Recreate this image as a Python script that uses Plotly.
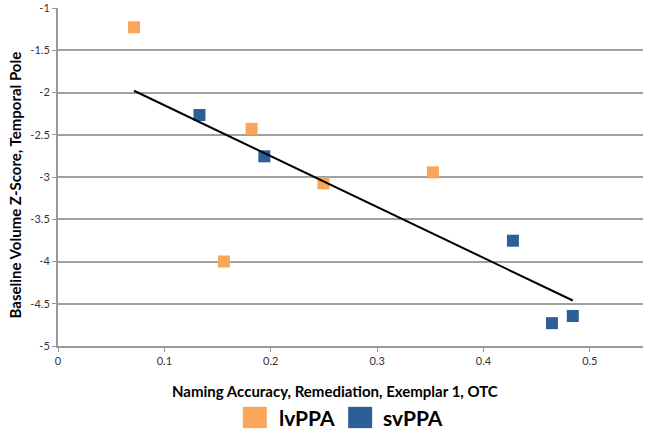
import numpy as np
import plotly.graph_objects as go

lv_x = [0.0715, 0.156, 0.182, 0.2496, 0.3525]
lv_y = [-1.228, -4.0, -2.43, -3.075, -2.945]
sv_x = [0.133, 0.194, 0.4277, 0.4644, 0.484]
sv_y = [-2.266, -2.755, -3.754, -4.73, -4.645]

x_ticks = [0, 0.1, 0.2, 0.3, 0.4, 0.5]
y_ticks = [-1, -1.5, -2, -2.5, -3, -3.5, -4, -4.5, -5]

series_names = ["lvPPA", "svPPA"]

ORANGE = "#F9A65A"
BLUE = "#2C5F98"
FONT = "Lato, Open Sans, sans-serif"

all_x = np.array(lv_x + sv_x)
all_y = np.array(lv_y + sv_y)
slope, intercept = np.polyfit(all_x, all_y, 1)
tx = np.array([all_x.min(), all_x.max()])
ty = slope * tx + intercept

fig = go.Figure()
fig.add_trace(go.Scatter(x=lv_x, y=lv_y, mode="markers", name=series_names[0], showlegend=False,
                         marker=dict(symbol="square", size=12, color=ORANGE)))
fig.add_trace(go.Scatter(x=sv_x, y=sv_y, mode="markers", name=series_names[1], showlegend=False,
                         marker=dict(symbol="square", size=12, color=BLUE)))
fig.add_trace(go.Scatter(x=tx, y=ty, mode="lines", showlegend=False,
                         line=dict(color="black", width=2)))

# custom legend (large swatches)
legend_items = [(series_names[0], ORANGE, 0.316, 0.374), (series_names[1], BLUE, 0.496, 0.552)]
for name, col, sx, tx_ in legend_items:
    fig.add_shape(type="rect", xref="paper", yref="paper", x0=sx, x1=sx + 0.041,
                  y0=-0.243, y1=-0.180, fillcolor=col, line=dict(width=0))
    fig.add_annotation(xref="paper", yref="paper", x=tx_, y=-0.212, text=name,
                       showarrow=False, xanchor="left", yanchor="middle",
                       font=dict(size=21, color="black", family=FONT, weight="bold"))

fig.add_annotation(xref="paper", yref="paper", x=0.4735, y=-0.133, yanchor="middle",
                   text="Naming Accuracy, Remediation, Exemplar 1, OTC", showarrow=False,
                   font=dict(size=15, color="black", family=FONT, weight="bold"))
fig.add_annotation(xref="paper", yref="paper", x=-0.0735, y=0.475, textangle=-90,
                   xanchor="center", yanchor="middle",
                   text="Baseline Volume Z-Score, Temporal Pole", showarrow=False,
                   font=dict(size=15, color="black", family=FONT, weight="bold"))

fig.update_layout(
    width=648, height=439,
    margin=dict(l=58, r=5, t=8, b=93),
    plot_bgcolor="white", paper_bgcolor="white",
    font=dict(family=FONT, color="#333333", size=11),
    showlegend=False,
    xaxis=dict(range=[0, 0.55], tickvals=x_ticks, ticktext=[str(v) for v in x_ticks],
               automargin=False,
               showgrid=False, zeroline=False, showline=True, linecolor="#999999", linewidth=2,
               ticks="outside", ticklen=4, tickcolor="#999999", tickwidth=1),
    yaxis=dict(range=[-5, -1], tickvals=y_ticks, ticktext=[str(v) for v in y_ticks],
               automargin=False,
               showgrid=True, gridcolor="#A0A0A0", gridwidth=2, zeroline=False,
               showline=True, linecolor="#999999", linewidth=2,
               ticks="outside", ticklen=4, tickcolor="#999999"),
)

fig.write_html("out.html", config={"displayModeBar": False},
               post_script="document.body.style.margin='0';")
